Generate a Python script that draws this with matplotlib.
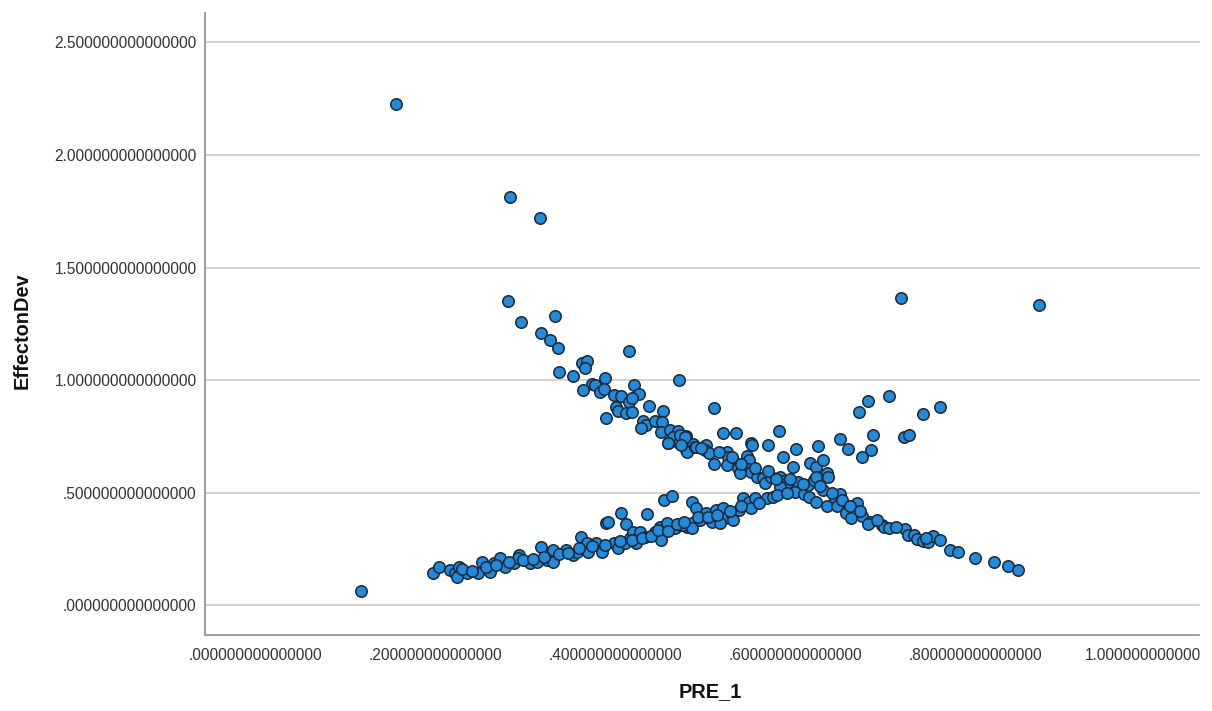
import matplotlib
matplotlib.use("Agg")
import matplotlib.pyplot as plt
from matplotlib.patches import Rectangle
from matplotlib.ticker import FuncFormatter

# PRE_1 / EffectonDev values
outlier_x = [0.157, 0.283, 0.316, 0.717, 0.870, 0.118]
outlier_y = [2.226, 1.813, 1.720, 1.365, 1.334, 0.064]

# falling branch
fall_x = [0.281, 0.295, 0.333, 0.318, 0.327, 0.336, 0.363, 0.369, 0.366, 0.338,
          0.353, 0.389, 0.415, 0.471, 0.374, 0.377, 0.364, 0.383, 0.387, 0.421,
          0.426, 0.398, 0.406, 0.415, 0.418, 0.401, 0.403, 0.412, 0.419, 0.437,
          0.390, 0.453, 0.431, 0.434, 0.428, 0.444, 0.452, 0.451, 0.461, 0.470,
          0.478, 0.464, 0.458, 0.471, 0.478, 0.486, 0.459, 0.479, 0.488,
          0.509, 0.520, 0.534, 0.582, 0.551, 0.552, 0.569, 0.601, 0.625, 0.649,
          0.658, 0.671, 0.681, 0.704, 0.686, 0.684, 0.674, 0.720, 0.726, 0.742,
          0.760,
          0.472, 0.477, 0.473, 0.489, 0.501, 0.499, 0.504, 0.509,
          0.524, 0.525, 0.531, 0.524, 0.536, 0.546, 0.548, 0.548, 0.551, 0.538,
          0.557, 0.564, 0.566, 0.573,
          0.586, 0.597, 0.583, 0.586, 0.590, 0.583,
          0.603, 0.599, 0.609, 0.615, 0.614, 0.620, 0.616, 0.623, 0.623, 0.631,
          0.635, 0.636, 0.631,
          0.623, 0.635, 0.644, 0.649, 0.646, 0.656, 0.662, 0.668, 0.674, 0.683,
          0.681, 0.696, 0.698, 0.704, 0.722, 0.725, 0.731, 0.735, 0.742, 0.747,
          0.753, 0.771, 0.780, 0.799, 0.820, 0.836, 0.847,
          0.495, 0.515, 0.530, 0.540, 0.555, 0.570, 0.578, 0.594, 0.608, 0.627,
          0.640, 0.652, 0.660, 0.672, 0.690, 0.712, 0.745, 0.760]
fall_y = [1.353, 1.257, 1.286, 1.211, 1.178, 1.142, 1.075, 1.087, 1.053, 1.038,
          1.019, 1.011, 1.130, 1.001, 0.982, 0.979, 0.957, 0.949, 0.960, 0.979,
          0.939, 0.934, 0.931, 0.902, 0.920, 0.882, 0.863, 0.856, 0.858, 0.885,
          0.834, 0.865, 0.820, 0.801, 0.787, 0.819, 0.813, 0.771, 0.779, 0.775,
          0.754, 0.749, 0.723, 0.720, 0.690, 0.716, 0.720, 0.683, 0.705,
          0.878, 0.767, 0.767, 0.775, 0.720, 0.712, 0.714, 0.693, 0.708, 0.738,
          0.695, 0.858, 0.908, 0.931, 0.757, 0.690, 0.658, 0.747, 0.757, 0.849,
          0.882,
          0.757, 0.749, 0.712, 0.705, 0.712, 0.690, 0.676, 0.627,
          0.683, 0.661, 0.646, 0.624, 0.609, 0.664, 0.646, 0.605, 0.594, 0.587,
          0.572, 0.565, 0.542, 0.572,
          0.658, 0.613, 0.572, 0.554, 0.542, 0.527,
          0.550, 0.505, 0.495, 0.483, 0.534, 0.557, 0.631, 0.616, 0.572, 0.646,
          0.587, 0.572, 0.513,
          0.461, 0.441, 0.476, 0.495, 0.441, 0.409, 0.387, 0.457, 0.399, 0.372,
          0.362, 0.357, 0.350, 0.345, 0.340, 0.314, 0.314, 0.295, 0.285, 0.280,
          0.310, 0.246, 0.236, 0.213, 0.192, 0.175, 0.158,
          0.700, 0.680, 0.660, 0.630, 0.610, 0.595, 0.560, 0.560, 0.540, 0.530,
          0.500, 0.470, 0.440, 0.420, 0.380, 0.350, 0.300, 0.290]

# rising branch
rise_x = [0.198, 0.204, 0.216, 0.222, 0.227, 0.235, 0.224, 0.248, 0.252, 0.261,
          0.265, 0.272, 0.277, 0.287, 0.293, 0.292, 0.305, 0.313, 0.318, 0.324,
          0.331, 0.331, 0.345, 0.353, 0.357, 0.362, 0.368, 0.370, 0.379, 0.385,
          0.390, 0.392, 0.406, 0.412, 0.435, 0.454, 0.463, 0.398, 0.403, 0.411,
          0.416, 0.420, 0.427, 0.423, 0.433, 0.444, 0.451, 0.451, 0.461, 0.466,
          0.472, 0.479, 0.485, 0.450, 0.457,
          0.485, 0.490, 0.475, 0.485, 0.494, 0.501, 0.507, 0.512, 0.520, 0.522,
          0.516, 0.529, 0.531, 0.537, 0.542, 0.548, 0.551, 0.555, 0.568, 0.575,
          0.230, 0.241, 0.256, 0.268, 0.282, 0.298, 0.309, 0.321, 0.338, 0.347,
          0.360, 0.374, 0.388, 0.405, 0.418, 0.430, 0.440, 0.447, 0.459, 0.468,
          0.476, 0.492, 0.503, 0.513, 0.527, 0.540, 0.560, 0.580, 0.590]
rise_y = [0.143, 0.172, 0.158, 0.143, 0.172, 0.146, 0.128, 0.143, 0.194, 0.150,
          0.187, 0.210, 0.172, 0.187, 0.224, 0.210, 0.187, 0.194, 0.261, 0.202,
          0.194, 0.246, 0.246, 0.224, 0.239, 0.305, 0.276, 0.239, 0.279, 0.239,
          0.365, 0.372, 0.409, 0.362, 0.405, 0.468, 0.486, 0.276, 0.254, 0.276,
          0.298, 0.328, 0.328, 0.276, 0.305, 0.328, 0.313, 0.291, 0.350, 0.343,
          0.357, 0.350, 0.365, 0.350, 0.365,
          0.461, 0.432, 0.358, 0.343, 0.380, 0.409, 0.372, 0.424, 0.432, 0.387,
          0.365, 0.402, 0.380, 0.424, 0.476, 0.461, 0.432, 0.476, 0.476, 0.483,
          0.160, 0.152, 0.170, 0.180, 0.195, 0.200, 0.205, 0.215, 0.228, 0.232,
          0.255, 0.262, 0.268, 0.285, 0.290, 0.300, 0.310, 0.335, 0.332, 0.360,
          0.370, 0.395, 0.395, 0.400, 0.420, 0.440, 0.455, 0.490, 0.500]

x_ticks = [0.0, 0.2, 0.4, 0.6, 0.8, 1.0]
y_ticks = [0.0, 0.5, 1.0, 1.5, 2.0, 2.5]


# SPSS style number: 15 decimals, no leading zero
def spss_fmt(v, pos=None):
    s = f"{v:.15f}"
    if s.startswith("0."):
        s = s[1:]
    return s


plt.rcParams['font.family'] = ['Liberation Sans', 'DejaVu Sans']

fig = plt.figure(figsize=(12.12, 7.11), dpi=100)
ax = fig.add_axes([205 / 1212, 1 - 635 / 711, 995 / 1212, 622 / 711])

xs = outlier_x + fall_x + rise_x
ys = outlier_y + fall_y + rise_y
ax.scatter(xs, ys, s=68, color='#2389d9', edgecolor='#1b2735',
           linewidth=1.1, zorder=3)

ax.set_xlim(-0.0555, 1.049)
ax.set_ylim(-0.131, 2.630)
ax.set_xticks(x_ticks)
ax.set_yticks(y_ticks)
ax.xaxis.set_major_formatter(FuncFormatter(spss_fmt))
ax.yaxis.set_major_formatter(FuncFormatter(spss_fmt))
ax.tick_params(length=0, labelsize=11.2, colors='#333333')
ax.tick_params(axis='x', pad=9)
ax.tick_params(axis='y', pad=6)

ax.grid(axis='y', color='#d3d3d3', linewidth=1.4)
ax.set_axisbelow(True)
for side in ['top', 'right']:
    ax.spines[side].set_visible(False)
for side in ['left', 'bottom']:
    ax.spines[side].set_color('#9c9c9c')
    ax.spines[side].set_linewidth(1.4)

ax.set_xlabel('PRE_1', fontsize=14.4, fontweight='bold', color='#111111')
ax.set_ylabel('EffectonDev', fontsize=14.4, fontweight='bold', color='#111111')
ax.xaxis.set_label_coords(0.5075, -0.075)
ax.yaxis.set_label_coords(-0.174, 0.489)

# the source image is cut off on the right
fig.patches.append(Rectangle((1200 / 1212, 0), 12 / 1212, 1,
                             transform=fig.transFigure, color='white', zorder=10))

fig.savefig('out.png', dpi=100)
